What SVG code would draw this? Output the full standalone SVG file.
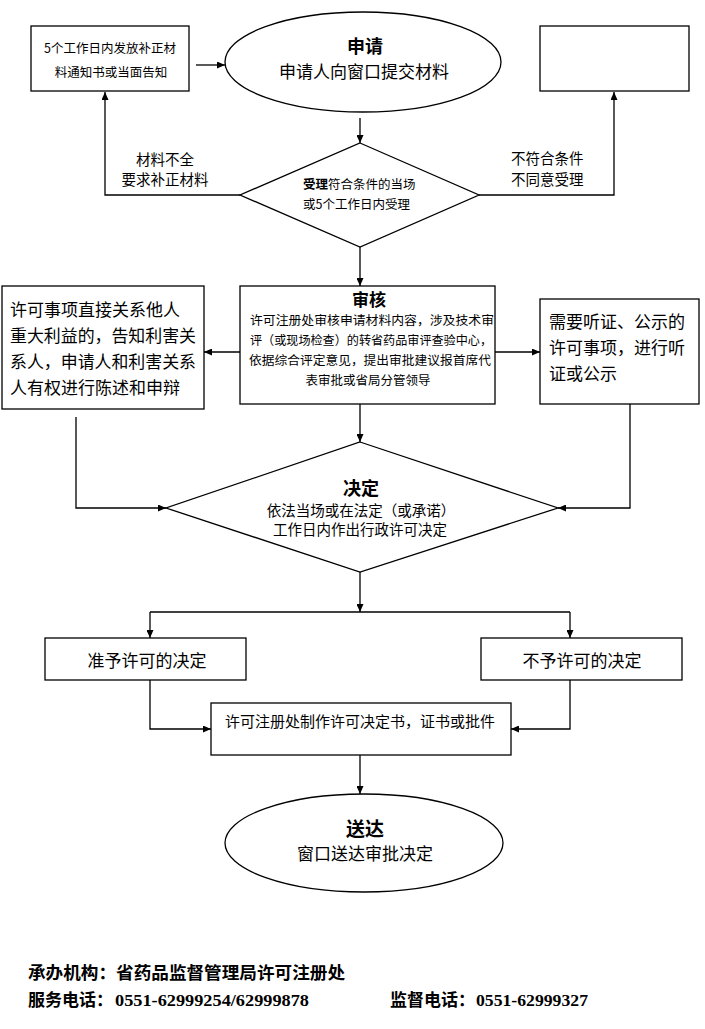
<svg xmlns="http://www.w3.org/2000/svg" width="705" height="1029" viewBox="0 0 705 1029">
<style>
  .shape { fill: #fff; stroke: #000; stroke-width: 1.3; }
  .conn path { fill: none; stroke: #000; stroke-width: 1.3; }
  .t { font-family: "Noto Sans CJK SC", "DejaVu Sans", sans-serif; fill: #000; dominant-baseline: central; }
  .c { text-anchor: middle; }
  .b { font-weight: bold; }
  .foot { font-family: "Liberation Serif", "Noto Sans CJK SC", serif; font-weight: bold; font-size: 17px; fill: #000; dominant-baseline: central; }
</style>
<defs>
  <marker id="arr" markerUnits="userSpaceOnUse" markerWidth="8" markerHeight="7" refX="8" refY="3.5" orient="auto">
    <path d="M0,0 L8,3.5 L0,7 z" fill="#000"/>
  </marker>
</defs>
<rect width="705" height="1029" fill="#fff"/>

<g id="notice-box">
  <rect class="shape" x="31" y="26" width="158" height="65"/>
  <text class="t c" x="110" y="47" font-size="12.5">5个工作日内发放补正材</text>
  <text class="t c" x="111" y="71" font-size="12.5">料通知书或当面告知</text>
</g>

<g id="apply">
  <ellipse class="shape" cx="363" cy="62" rx="138" ry="50"/>
  <text class="t c b" x="365" y="45" font-size="18">申请</text>
  <text class="t c" x="364" y="70" font-size="17">申请人向窗口提交材料</text>
</g>

<g id="reject-box">
  <rect class="shape" x="540" y="26" width="149" height="65"/>
</g>

<g id="accept">
  <polygon class="shape" points="360,143 479,195 360,247 240,195"/>
  <text class="t" x="303" y="183" font-size="12.5"><tspan class="b">受理</tspan>符合条件的当场</text>
  <text class="t" x="303" y="203" font-size="12.5">或5个工作日内受理</text>
</g>

<g id="review">
  <rect class="shape" x="240" y="286" width="255" height="118"/>
  <text class="t c b" x="369" y="298" font-size="17">审核</text>
  <text class="t c" x="372" y="319" font-size="12.5" textLength="244" lengthAdjust="spacingAndGlyphs">许可注册处审核申请材料内容，涉及技术审</text>
  <text class="t c" x="371" y="339" font-size="12.5" textLength="242" lengthAdjust="spacingAndGlyphs">评（或现场检查）的转省药品审评查验中心，</text>
  <text class="t c" x="370" y="359" font-size="12.5" textLength="242" lengthAdjust="spacingAndGlyphs">依据综合评定意见，提出审批建议报首席代</text>
  <text class="t c" x="368" y="379" font-size="12.5">表审批或省局分管领导</text>
</g>

<g id="interest-box">
  <rect class="shape" x="2" y="286" width="202" height="123"/>
  <text class="t" x="10" y="308" font-size="17">许可事项直接关系他人</text>
  <text class="t" x="10" y="334" font-size="17" textLength="186" lengthAdjust="spacingAndGlyphs">重大利益的，告知利害关</text>
  <text class="t" x="10" y="360" font-size="17" textLength="186" lengthAdjust="spacingAndGlyphs">系人，申请人和利害关系</text>
  <text class="t" x="10" y="386" font-size="17">人有权进行陈述和申辩</text>
</g>

<g id="hearing-box">
  <rect class="shape" x="540" y="299" width="159" height="105"/>
  <text class="t" x="549" y="320" font-size="17">需要听证、公示的</text>
  <text class="t" x="549" y="346" font-size="17">许可事项，进行听</text>
  <text class="t" x="549" y="372" font-size="17">证或公示</text>
</g>

<g id="decide">
  <polygon class="shape" points="360,442 558,508 360,572 166,508"/>
  <text class="t c b" x="361" y="487" font-size="18">决定</text>
  <text class="t c" x="361" y="509" font-size="14.5">依法当场或在法定（或承诺）</text>
  <text class="t c" x="360" y="528" font-size="14.5">工作日内作出行政许可决定</text>
</g>

<g id="grant-box">
  <rect class="shape" x="45" y="638" width="201" height="42"/>
  <text class="t c" x="147" y="659" font-size="17">准予许可的决定</text>
</g>

<g id="deny-box">
  <rect class="shape" x="481" y="638" width="201" height="42"/>
  <text class="t c" x="582" y="659" font-size="17">不予许可的决定</text>
</g>

<g id="make-doc">
  <rect class="shape" x="211" y="703" width="300" height="52"/>
  <text class="t c" x="360" y="720" font-size="15">许可注册处制作许可决定书，证书或批件</text>
</g>

<g id="deliver">
  <ellipse class="shape" cx="364" cy="843" rx="139" ry="49"/>
  <text class="t c b" x="365" y="827" font-size="19">送达</text>
  <text class="t c" x="365" y="852" font-size="17">窗口送达审批决定</text>
</g>

<g id="labels">
  <text class="t c" x="165" y="158" font-size="14.5">材料不全</text>
  <text class="t c" x="165" y="178" font-size="14.5">要求补正材料</text>
  <text class="t" x="511" y="157" font-size="14.5">不符合条件</text>
  <text class="t" x="511" y="178" font-size="14.5">不同意受理</text>
</g>

<g id="connectors" class="conn">
  <path d="M196,65 H225" marker-end="url(#arr)"/>
  <path d="M360,118 V143" marker-end="url(#arr)"/>
  <path d="M240,195 H105 V92" marker-end="url(#arr)"/>
  <path d="M479,195 H614 V92" marker-end="url(#arr)"/>
  <path d="M360,247 V286" marker-end="url(#arr)"/>
  <path d="M240,352 H204" marker-end="url(#arr)"/>
  <path d="M495,352 H540" marker-end="url(#arr)"/>
  <path d="M360,404 V442" marker-end="url(#arr)"/>
  <path d="M76,417 V508 H166" marker-end="url(#arr)"/>
  <path d="M630,404 V508 H558" marker-end="url(#arr)"/>
  <path d="M360,572 V612" marker-end="url(#arr)"/>
  <path d="M150,612 H570"/>
  <path d="M150,612 V638" marker-end="url(#arr)"/>
  <path d="M570,612 V638" marker-end="url(#arr)"/>
  <path d="M150,680 V729 H211" marker-end="url(#arr)"/>
  <path d="M570,680 V729 H511" marker-end="url(#arr)"/>
  <path d="M360,755 V794" marker-end="url(#arr)"/>
</g>

<g id="footer">
  <text class="foot" x="28" y="973" textLength="317" lengthAdjust="spacingAndGlyphs">承办机构：省药品监督管理局许可注册处</text>
  <text class="foot" x="28" y="1000">服务电话：<tspan x="115" textLength="194" lengthAdjust="spacingAndGlyphs">0551-62999254/62999878</tspan></text>
  <text class="foot" x="390" y="1000">监督电话：<tspan x="476" textLength="112" lengthAdjust="spacingAndGlyphs">0551-62999327</tspan></text>
</g>
</svg>
